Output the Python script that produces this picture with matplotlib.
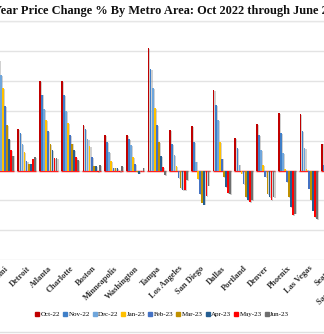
import matplotlib
matplotlib.use("Agg")
import numpy as np
import matplotlib.pyplot as plt
import matplotlib.patheffects as pe
from matplotlib.lines import Line2D

# metros in chart order (left part of the chart is cropped off)
metros = ["Miami", "Detroit", "Atlanta", "Charlotte", "Boston", "Minneapolis",
          "Washington", "Tampa", "Los Angeles", "San Diego", "Dallas", "Portland",
          "Denver", "Phoenix", "Las Vegas", "Seattle", "San Francisco"]

months = ["Oct-22", "Nov-22", "Dec-22", "Jan-23", "Feb-23",
          "Mar-23", "Apr-23", "May-23", "Jun-23"]

colors = ["#C00000", "#3F7FC8", "#6FA6DC", "#FFC000", "#4472C4",
          "#BF9000", "#255E91", "#FF0000", "#6E6E6E"]

# year over year change, %
oct22 = [21.0, 7.0, 14.9, 15.0, 7.6, 5.9, 5.9, 20.5, 6.7, 7.5, 13.5, 5.4, 7.8, 9.6, 9.4, 4.5, 1.1]
nov22 = [18.4, 6.2, 12.7, 12.6, 6.9, 4.7, 5.3, 16.9, 4.4, 4.7, 10.9, 3.8, 5.9, 6.2, 6.6, 1.0, -1.3]
dec22 = [15.9, 4.4, 10.3, 9.9, 5.2, 3.1, 4.3, 13.8, 2.6, 1.5, 8.5, 1.0, 3.4, 2.9, 3.7, -2.9, -4.2]
jan23 = [13.8, 3.1, 8.4, 8.0, 4.1, 1.6, 2.3, 10.4, 0.8, -1.4, 4.8, -0.5, 0.9, 0.2, 0.3, -5.1, -7.6]
feb23 = [10.8, 1.6, 6.6, 5.9, 2.2, 0.5, 1.1, 7.6, -1.2, -4.0, 2.0, -2.2, -1.1, -1.9, -3.0, -7.9, -10.1]
mar23 = [7.6, 1.1, 4.4, 4.5, 0.8, 0.5, -0.2, 4.8, -2.9, -5.5, -1.1, -4.4, -3.9, -4.4, -5.0, -10.4, -11.5]
apr23 = [5.3, 1.1, 3.4, 3.4, 0.8, 0.4, -0.5, 2.4, -3.2, -5.7, -2.8, -5.0, -4.4, -6.1, -6.7, -11.4, -11.4]
may23 = [3.4, 2.0, 2.1, 2.3, -0.2, -0.3, -0.1, 0.6, -3.2, -4.2, -3.8, -5.3, -4.9, -7.5, -7.8, -11.4, -10.3]
jun23 = [2.5, 2.2, 2.1, 1.7, 0.9, 0.8, 0.5, -0.8, -1.6, -2.5, -4.0, -5.0, -4.4, -7.2, -8.1, -9.1, -9.0]

series = [oct22, nov22, dec22, jan23, feb23, mar23, apr23, may23, jun23]

W, H = 324, 334
fig = plt.figure(figsize=(W / 100, H / 100), dpi=100)

# axes is wider than the canvas: the picture is a crop of a bigger chart
ax_left, ax_right = -40, 380
ax_top, ax_bottom = 21, 260.3
ax = fig.add_axes([ax_left / W, (H - ax_bottom) / H,
                   (ax_right - ax_left) / W, (ax_bottom - ax_top) / H])

x = np.arange(len(metros))
step = 0.0954
bw = 0.078
shadow = [pe.SimplePatchShadow(offset=(0.8, -0.6), shadow_rgbFace="#999999", alpha=0.45), pe.Normal()]

for j, (vals, c) in enumerate(zip(series, colors)):
    bars = ax.bar(x + (j - 4) * step, vals, width=bw, color=c, zorder=3)
    for b in bars:
        b.set_path_effects(shadow)

# red zero segments under every group
for xi in x:
    ax.hlines(0, xi - 4.5 * step, xi + 4.5 * step, color="#FF2020", lw=1.0, zorder=2)

ax.set_xlim((ax_left - 4.9) / 21.7, (ax_right - 4.9) / 21.7)
ax.set_ylim(-15, 25)
ax.set_yticks(np.arange(-15, 26, 5))
ax.yaxis.grid(True, color="#E3E3E3", lw=1.0, zorder=0)
ax.set_axisbelow(True)
for s in ax.spines.values():
    s.set_visible(False)
ax.tick_params(axis="y", length=0, labelleft=False)
ax.tick_params(axis="x", length=0, pad=3)
ax.set_xticks(x)
ax.set_xticklabels(metros, rotation=45, ha="right", rotation_mode="anchor",
                   fontsize=6, family="Liberation Serif", fontweight="bold", color="#333333")

fig.text(346 / W, (H - 14) / H,
         "Year-Over-Year Price Change % By Metro Area: Oct 2022 through June 2023",
         ha="right", va="baseline", fontsize=8.95, family="Liberation Serif",
         fontweight="bold", color="#111111")

# light line under the title and chart border at the bottom
fig.add_artist(Line2D([0, 1], [(H - 20.7) / H] * 2, color="#E6E6E6", lw=1))
fig.add_artist(Line2D([0, 1], [(H - 332) / H] * 2, color="#E0E0E0", lw=1))

handles = [Line2D([], [], marker="s", ls="", color=c, markersize=3) for c in colors]
fig.legend(handles, months, loc="center", bbox_to_anchor=(162 / W, (H - 314) / H),
           ncol=9, frameon=False, handlelength=0.6, handletextpad=0.2,
           columnspacing=0.4, prop={"family": "Liberation Serif", "size": 5})

fig.savefig("out.png", dpi=100)
